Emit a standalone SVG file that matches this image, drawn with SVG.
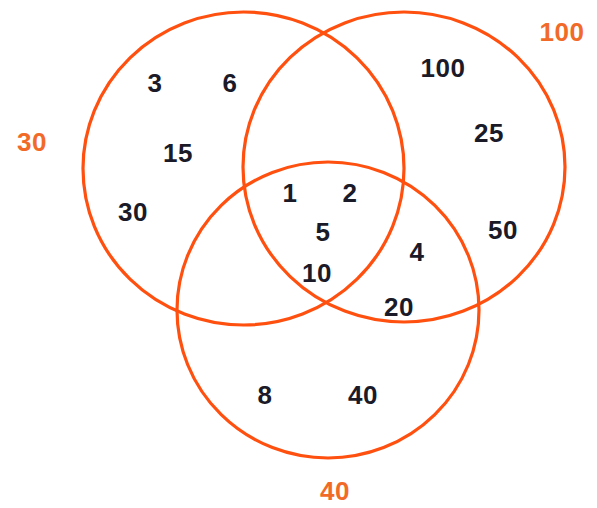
<svg xmlns="http://www.w3.org/2000/svg" width="597" height="508" viewBox="0 0 597 508">
<style>
.c{fill:none;stroke:#ff5010;stroke-width:3.2}
.n{font-family:"Liberation Sans",Arial,sans-serif;font-weight:bold;font-size:26px;letter-spacing:0.5px;fill:#1a1a28;text-anchor:middle}
.l{font-family:"Liberation Sans",Arial,sans-serif;font-weight:bold;font-size:26px;letter-spacing:0.5px;fill:#f26a28;text-anchor:middle}
</style>
<rect width="597" height="508" fill="#fff"/>
<g id="set30">
<ellipse class="c" cx="243.5" cy="168.5" rx="160.5" ry="156.5"/>
<text class="l" x="32" y="151">30</text>
</g>
<g id="set100">
<ellipse class="c" cx="404" cy="167" rx="161" ry="155"/>
<text class="l" x="562" y="41">100</text>
</g>
<g id="set40">
<ellipse class="c" cx="328" cy="310" rx="151" ry="148"/>
<text class="l" x="335" y="500">40</text>
</g>
<g id="numbers">
<text class="n" x="155" y="92">3</text>
<text class="n" x="230" y="92">6</text>
<text class="n" x="178" y="162">15</text>
<text class="n" x="133" y="221">30</text>
<text class="n" x="290" y="202">1</text>
<text class="n" x="350" y="202">2</text>
<text class="n" x="323" y="241">5</text>
<text class="n" x="317" y="282">10</text>
<text class="n" x="417" y="261">4</text>
<text class="n" x="399" y="316">20</text>
<text class="n" x="503" y="239">50</text>
<text class="n" x="443" y="77">100</text>
<text class="n" x="489" y="142">25</text>
<text class="n" x="265" y="404">8</text>
<text class="n" x="363" y="404">40</text>
</g>
</svg>
